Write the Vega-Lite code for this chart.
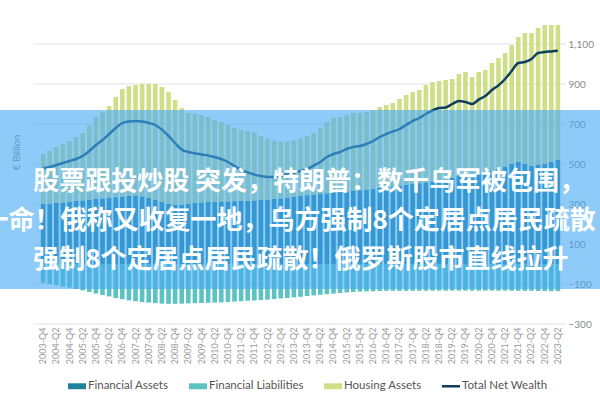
{
  "$schema": "https://vega.github.io/schema/vega-lite/v6.json",
  "width": 600,
  "height": 320,
  "autosize": {"type": "none"},
  "padding": {"left": 0, "top": 4, "right": 0, "bottom": 76},
  "background": "white",
  "config": {"view": {"stroke": null}, "font": "Lato"},
  "datasets": {
    "grid": [{"g": -300}, {"g": -100}, {"g": 100}, {"g": 300}, {"g": 500}, {"g": 700}, {"g": 900}, {"g": 1100}],
    "wealth": [
    {"q":"2003-Q4","Financial Assets":300,"Financial Liabilities":-95,"Housing Assets":250,"Total Net Wealth":478},
    {"q":"2004-Q1","Financial Assets":302,"Financial Liabilities":-100,"Housing Assets":263,"Total Net Wealth":485},
    {"q":"2004-Q2","Financial Assets":305,"Financial Liabilities":-105,"Housing Assets":280,"Total Net Wealth":495},
    {"q":"2004-Q3","Financial Assets":308,"Financial Liabilities":-112,"Housing Assets":292,"Total Net Wealth":505},
    {"q":"2004-Q4","Financial Assets":312,"Financial Liabilities":-118,"Housing Assets":303,"Total Net Wealth":515},
    {"q":"2005-Q1","Financial Assets":315,"Financial Liabilities":-125,"Housing Assets":320,"Total Net Wealth":525},
    {"q":"2005-Q2","Financial Assets":318,"Financial Liabilities":-132,"Housing Assets":337,"Total Net Wealth":540},
    {"q":"2005-Q3","Financial Assets":322,"Financial Liabilities":-140,"Housing Assets":368,"Total Net Wealth":565},
    {"q":"2005-Q4","Financial Assets":325,"Financial Liabilities":-148,"Housing Assets":410,"Total Net Wealth":595},
    {"q":"2006-Q1","Financial Assets":328,"Financial Liabilities":-155,"Housing Assets":432,"Total Net Wealth":620},
    {"q":"2006-Q2","Financial Assets":331,"Financial Liabilities":-162,"Housing Assets":459,"Total Net Wealth":650},
    {"q":"2006-Q3","Financial Assets":334,"Financial Liabilities":-170,"Housing Assets":501,"Total Net Wealth":680},
    {"q":"2006-Q4","Financial Assets":337,"Financial Liabilities":-176,"Housing Assets":538,"Total Net Wealth":705},
    {"q":"2007-Q1","Financial Assets":340,"Financial Liabilities":-182,"Housing Assets":550,"Total Net Wealth":713},
    {"q":"2007-Q2","Financial Assets":342,"Financial Liabilities":-186,"Housing Assets":553,"Total Net Wealth":715},
    {"q":"2007-Q3","Financial Assets":338,"Financial Liabilities":-190,"Housing Assets":562,"Total Net Wealth":712},
    {"q":"2007-Q4","Financial Assets":330,"Financial Liabilities":-193,"Housing Assets":570,"Total Net Wealth":705},
    {"q":"2008-Q1","Financial Assets":320,"Financial Liabilities":-196,"Housing Assets":580,"Total Net Wealth":695},
    {"q":"2008-Q2","Financial Assets":310,"Financial Liabilities":-198,"Housing Assets":575,"Total Net Wealth":672},
    {"q":"2008-Q3","Financial Assets":300,"Financial Liabilities":-199,"Housing Assets":560,"Total Net Wealth":640},
    {"q":"2008-Q4","Financial Assets":295,"Financial Liabilities":-199,"Housing Assets":525,"Total Net Wealth":605},
    {"q":"2009-Q1","Financial Assets":295,"Financial Liabilities":-198,"Housing Assets":485,"Total Net Wealth":572},
    {"q":"2009-Q2","Financial Assets":300,"Financial Liabilities":-197,"Housing Assets":455,"Total Net Wealth":560},
    {"q":"2009-Q3","Financial Assets":305,"Financial Liabilities":-196,"Housing Assets":445,"Total Net Wealth":553},
    {"q":"2009-Q4","Financial Assets":308,"Financial Liabilities":-195,"Housing Assets":437,"Total Net Wealth":548},
    {"q":"2010-Q1","Financial Assets":310,"Financial Liabilities":-194,"Housing Assets":425,"Total Net Wealth":543},
    {"q":"2010-Q2","Financial Assets":310,"Financial Liabilities":-193,"Housing Assets":410,"Total Net Wealth":535},
    {"q":"2010-Q3","Financial Assets":312,"Financial Liabilities":-192,"Housing Assets":398,"Total Net Wealth":525},
    {"q":"2010-Q4","Financial Assets":313,"Financial Liabilities":-190,"Housing Assets":382,"Total Net Wealth":510},
    {"q":"2011-Q1","Financial Assets":314,"Financial Liabilities":-188,"Housing Assets":366,"Total Net Wealth":490},
    {"q":"2011-Q2","Financial Assets":315,"Financial Liabilities":-186,"Housing Assets":355,"Total Net Wealth":470},
    {"q":"2011-Q3","Financial Assets":316,"Financial Liabilities":-184,"Housing Assets":349,"Total Net Wealth":458},
    {"q":"2011-Q4","Financial Assets":318,"Financial Liabilities":-182,"Housing Assets":342,"Total Net Wealth":447},
    {"q":"2012-Q1","Financial Assets":320,"Financial Liabilities":-180,"Housing Assets":320,"Total Net Wealth":440},
    {"q":"2012-Q2","Financial Assets":322,"Financial Liabilities":-178,"Housing Assets":306,"Total Net Wealth":435},
    {"q":"2012-Q3","Financial Assets":325,"Financial Liabilities":-175,"Housing Assets":293,"Total Net Wealth":435},
    {"q":"2012-Q4","Financial Assets":328,"Financial Liabilities":-172,"Housing Assets":284,"Total Net Wealth":440},
    {"q":"2013-Q1","Financial Assets":332,"Financial Liabilities":-170,"Housing Assets":280,"Total Net Wealth":452},
    {"q":"2013-Q2","Financial Assets":336,"Financial Liabilities":-167,"Housing Assets":282,"Total Net Wealth":458},
    {"q":"2013-Q3","Financial Assets":340,"Financial Liabilities":-164,"Housing Assets":288,"Total Net Wealth":465},
    {"q":"2013-Q4","Financial Assets":344,"Financial Liabilities":-160,"Housing Assets":296,"Total Net Wealth":475},
    {"q":"2014-Q1","Financial Assets":347,"Financial Liabilities":-157,"Housing Assets":308,"Total Net Wealth":492},
    {"q":"2014-Q2","Financial Assets":350,"Financial Liabilities":-154,"Housing Assets":330,"Total Net Wealth":510},
    {"q":"2014-Q3","Financial Assets":353,"Financial Liabilities":-151,"Housing Assets":357,"Total Net Wealth":535},
    {"q":"2014-Q4","Financial Assets":356,"Financial Liabilities":-148,"Housing Assets":374,"Total Net Wealth":550},
    {"q":"2015-Q1","Financial Assets":359,"Financial Liabilities":-145,"Housing Assets":376,"Total Net Wealth":560},
    {"q":"2015-Q2","Financial Assets":362,"Financial Liabilities":-142,"Housing Assets":383,"Total Net Wealth":575},
    {"q":"2015-Q3","Financial Assets":365,"Financial Liabilities":-140,"Housing Assets":390,"Total Net Wealth":585},
    {"q":"2015-Q4","Financial Assets":368,"Financial Liabilities":-138,"Housing Assets":387,"Total Net Wealth":590},
    {"q":"2016-Q1","Financial Assets":372,"Financial Liabilities":-137,"Housing Assets":388,"Total Net Wealth":600},
    {"q":"2016-Q2","Financial Assets":376,"Financial Liabilities":-136,"Housing Assets":394,"Total Net Wealth":615},
    {"q":"2016-Q3","Financial Assets":380,"Financial Liabilities":-135,"Housing Assets":405,"Total Net Wealth":635},
    {"q":"2016-Q4","Financial Assets":384,"Financial Liabilities":-134,"Housing Assets":411,"Total Net Wealth":650},
    {"q":"2017-Q1","Financial Assets":388,"Financial Liabilities":-134,"Housing Assets":417,"Total Net Wealth":663},
    {"q":"2017-Q2","Financial Assets":392,"Financial Liabilities":-134,"Housing Assets":433,"Total Net Wealth":675},
    {"q":"2017-Q3","Financial Assets":396,"Financial Liabilities":-134,"Housing Assets":449,"Total Net Wealth":695},
    {"q":"2017-Q4","Financial Assets":400,"Financial Liabilities":-134,"Housing Assets":460,"Total Net Wealth":715},
    {"q":"2018-Q1","Financial Assets":404,"Financial Liabilities":-134,"Housing Assets":466,"Total Net Wealth":730},
    {"q":"2018-Q2","Financial Assets":408,"Financial Liabilities":-134,"Housing Assets":487,"Total Net Wealth":750},
    {"q":"2018-Q3","Financial Assets":412,"Financial Liabilities":-133,"Housing Assets":498,"Total Net Wealth":768},
    {"q":"2018-Q4","Financial Assets":416,"Financial Liabilities":-133,"Housing Assets":499,"Total Net Wealth":780},
    {"q":"2019-Q1","Financial Assets":422,"Financial Liabilities":-133,"Housing Assets":498,"Total Net Wealth":783},
    {"q":"2019-Q2","Financial Assets":430,"Financial Liabilities":-133,"Housing Assets":495,"Total Net Wealth":800},
    {"q":"2019-Q3","Financial Assets":440,"Financial Liabilities":-133,"Housing Assets":510,"Total Net Wealth":815},
    {"q":"2019-Q4","Financial Assets":448,"Financial Liabilities":-133,"Housing Assets":512,"Total Net Wealth":810},
    {"q":"2020-Q1","Financial Assets":430,"Financial Liabilities":-133,"Housing Assets":505,"Total Net Wealth":800},
    {"q":"2020-Q2","Financial Assets":445,"Financial Liabilities":-133,"Housing Assets":515,"Total Net Wealth":822},
    {"q":"2020-Q3","Financial Assets":455,"Financial Liabilities":-133,"Housing Assets":515,"Total Net Wealth":840},
    {"q":"2020-Q4","Financial Assets":465,"Financial Liabilities":-133,"Housing Assets":540,"Total Net Wealth":870},
    {"q":"2021-Q1","Financial Assets":475,"Financial Liabilities":-133,"Housing Assets":555,"Total Net Wealth":893},
    {"q":"2021-Q2","Financial Assets":488,"Financial Liabilities":-133,"Housing Assets":567,"Total Net Wealth":925},
    {"q":"2021-Q3","Financial Assets":500,"Financial Liabilities":-134,"Housing Assets":595,"Total Net Wealth":965},
    {"q":"2021-Q4","Financial Assets":510,"Financial Liabilities":-134,"Housing Assets":625,"Total Net Wealth":1005},
    {"q":"2022-Q1","Financial Assets":500,"Financial Liabilities":-134,"Housing Assets":655,"Total Net Wealth":1010},
    {"q":"2022-Q2","Financial Assets":490,"Financial Liabilities":-134,"Housing Assets":665,"Total Net Wealth":1025},
    {"q":"2022-Q3","Financial Assets":495,"Financial Liabilities":-135,"Housing Assets":685,"Total Net Wealth":1055},
    {"q":"2022-Q4","Financial Assets":500,"Financial Liabilities":-135,"Housing Assets":695,"Total Net Wealth":1060},
    {"q":"2023-Q1","Financial Assets":510,"Financial Liabilities":-136,"Housing Assets":685,"Total Net Wealth":1063},
    {"q":"2023-Q2","Financial Assets":520,"Financial Liabilities":-136,"Housing Assets":675,"Total Net Wealth":1066}
  ]},
  "data": {"name": "wealth"},
  "encoding": {
    "x": {
      "field": "q", "type": "ordinal",
      "scale": {"range": [36, 565], "paddingInner": 0.3, "paddingOuter": 0.73},
      "axis": {
        "title": null, "labelAngle": -90, "labelFontSize": 9, "labelColor": "#999999",
        "ticks": false, "domain": false, "labelPadding": 3,
        "values": ["2003-Q4","2004-Q2","2004-Q4","2005-Q2","2005-Q4","2006-Q2","2006-Q4","2007-Q2","2007-Q4","2008-Q2","2008-Q4","2009-Q2","2009-Q4","2010-Q2","2010-Q4","2011-Q2","2011-Q4","2012-Q2","2012-Q4","2013-Q2","2013-Q4","2014-Q2","2014-Q4","2015-Q2","2015-Q4","2016-Q2","2016-Q4","2017-Q2","2017-Q4","2018-Q2","2018-Q4","2019-Q2","2019-Q4","2020-Q2","2020-Q4","2021-Q2","2021-Q4","2022-Q2","2022-Q4","2023-Q2"]
      }
    }
  },
  "layer": [
    {
      "data": {"name": "grid"},
      "mark": {"type": "rule", "color": "#e3e3e3", "strokeWidth": 1, "xOffset": -10, "x2Offset": 8},
      "encoding": {
        "x": {"datum": "2003-Q4"},
        "x2": {"datum": "2023-Q2"},
        "y": {"field": "g", "type": "quantitative"}
      }
    },
    {
      "transform": [{"fold": ["Financial Assets", "Financial Liabilities", "Housing Assets"], "as": ["series", "value"]}],
      "mark": {"type": "bar"},
      "encoding": {
        "y": {
          "field": "value", "type": "quantitative", "stack": "zero",
          "scale": {"domain": [-300, 1300], "nice": false},
          "axis": {
            "orient": "right", "offset": -35, "values": [-300, -100, 100, 300, 500, 700, 900, 1100], "format": ",d",
            "labelColor": "#8a8a8a", "labelFontSize": 10, "labelPadding": 3, "ticks": false, "domain": false,
            "grid": false,
            "title": "€ Billion", "titleAngle": 270, "titleX": -549, "titleY": 148,
            "titleFontSize": 10, "titleFontWeight": "normal", "titleColor": "#888888", "titleAlign": "center", "titleBaseline": "middle"
          }
        },
        "color": {
          "field": "series", "type": "nominal",
          "scale": {
            "domain": ["Financial Assets", "Financial Liabilities", "Housing Assets", "Total Net Wealth"],
            "range": ["#21809b", "#5cc3c2", "#cfdf88", "#0f3f5f"]
          },
          "legend": {
            "orient": "none", "legendX": 68, "legendY": 373, "direction": "horizontal", "title": null,
            "symbolType": "M-1,-0.33H1V0.33H-1Z", "symbolSize": 324, "symbolStrokeWidth": 0,
            "labelFont": "Lato", "labelFontSize": 11.5, "labelColor": "#555555", "labelOffset": 2, "columnPadding": 20,
            "encode": {"symbols": {"update": {
              "shape": {"signal": "datum.value === 'Total Net Wealth' ? 'M-1,-0.14H1V0.14H-1Z' : 'M-1,-0.33H1V0.33H-1Z'"},
              "fill": {"signal": "scale('color', datum.value)"},
              "strokeWidth": {"value": 0}
            }}}
          }
        },
        "order": {"field": "series"}
      }
    },
    {
      "mark": {"type": "line", "strokeWidth": 2.5, "interpolate": "monotone"},
      "encoding": {
        "y": {"field": "Total Net Wealth", "type": "quantitative"},
        "color": {"datum": "Total Net Wealth"}
      }
    },
    {
      "data": {"values": [{}]},
      "mark": {"type": "rect", "color": "#42a9f3", "opacity": 0.6},
      "encoding": {
        "x": null,
        "y": {"datum": 770, "type": "quantitative"},
        "y2": {"datum": -125}
      }
    },
    {
      "data": {"values": [{}]},
      "mark": {"type": "text", "font": "Noto Sans CJK SC", "fontWeight": "bold", "fontSize": 26, "color": "white", "align": "left", "baseline": "middle", "dx": -10},
      "encoding": {
        "x": {"datum": "2003-Q4"},
        "y": {"datum": 412, "type": "quantitative"},
        "text": {"value": "股票跟投炒股 突发，特朗普：数千乌军被包围，"}
      }
    },
    {
      "data": {"values": [{}]},
      "mark": {"type": "text", "font": "Noto Sans CJK SC", "fontWeight": "bold", "fontSize": 26, "color": "white", "align": "right", "baseline": "middle", "dx": 38},
      "encoding": {
        "x": {"datum": "2023-Q2"},
        "y": {"datum": 215, "type": "quantitative"},
        "text": {"value": "一命！俄称又收复一地，乌方强制8个定居点居民疏散"}
      }
    },
    {
      "data": {"values": [{}]},
      "mark": {"type": "text", "font": "Noto Sans CJK SC", "fontWeight": "bold", "fontSize": 26, "color": "white", "align": "left", "baseline": "middle", "dx": -10},
      "encoding": {
        "x": {"datum": "2003-Q4"},
        "y": {"datum": 20, "type": "quantitative"},
        "text": {"value": "强制8个定居点居民疏散！俄罗斯股市直线拉升"}
      }
    }
  ]
}
